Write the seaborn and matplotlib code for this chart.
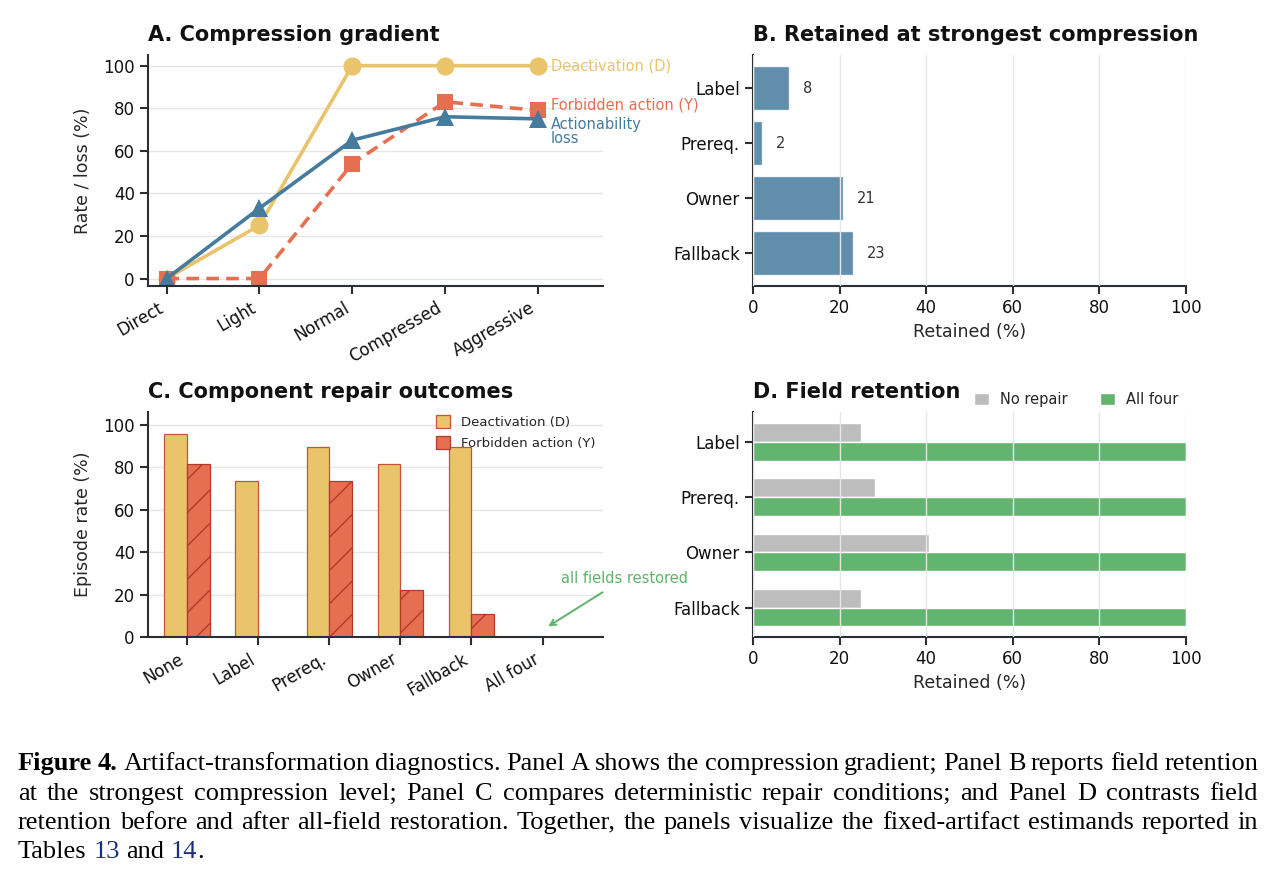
import numpy as np
import pandas as pd
import matplotlib
matplotlib.use("Agg")
import matplotlib.pyplot as plt
import matplotlib.patches as mpatches
import seaborn as sns

# ---- data ----
levels = ["Direct", "Light", "Normal", "Compressed", "Aggressive"]
deact_rate = [0, 25, 100, 100, 100]
forbid_rate = [0, 0, 54, 83, 79]
action_loss = [0, 33, 65, 76, 75]

fields = ["Label", "Prereq.", "Owner", "Fallback"]
retained_strongest = [8.3, 2.1, 20.9, 23.0]

repairs = ["None", "Label", "Prereq.", "Owner", "Fallback", "All four"]
repair_deact = [95.5, 73.5, 89.3, 81.3, 89.3, 0]
repair_forbid = [81.3, 0, 73.5, 22.0, 10.7, 0]

no_repair = [25.0, 28.2, 40.6, 25.0]
all_four = [100, 100, 100, 100]

YELLOW = "#E9C46A"
RED = "#E76F51"
BLUE = "#457B9D"
GREEN = "#63B46F"
GRAY = "#BDBDBD"
SPINE = "#2B2F33"

sns.set_theme(style="ticks")
plt.rcParams["font.family"] = ["DejaVu Sans"]
plt.rcParams.update({
    "axes.edgecolor": SPINE,
    "axes.linewidth": 1.5,
    "xtick.major.width": 1.5,
    "ytick.major.width": 1.5,
    "xtick.major.size": 6,
    "ytick.major.size": 6,
    "xtick.labelsize": 12,
    "ytick.labelsize": 12,
    "axes.labelsize": 12.5,
    "grid.color": "#E6E6E6",
    "grid.linewidth": 1.0,
})

W, H = 1274, 893
fig = plt.figure(figsize=(W / 100, H / 100), dpi=100)


def box(l, t, r, b):
    return [l / W, 1 - b / H, (r - l) / W, (b - t) / H]


axA = fig.add_axes(box(148, 55, 603, 286))
axB = fig.add_axes(box(753, 55, 1186, 286))
axC = fig.add_axes(box(148, 412, 603, 637))
axD = fig.add_axes(box(753, 412, 1186, 637))

title_kw = dict(loc="left", fontsize=15, fontweight="bold", pad=10, color="#111111")

# ---- A. Compression gradient ----
xs = np.arange(len(levels))
sns.lineplot(x=xs, y=deact_rate, ax=axA, color=YELLOW, lw=2.6, marker="o",
             markersize=13, markeredgewidth=0)
sns.lineplot(x=xs, y=forbid_rate, ax=axA, color=RED, lw=2.6, marker="s",
             markersize=12, markeredgewidth=0, linestyle=(0, (3.5, 2)))
sns.lineplot(x=xs, y=action_loss, ax=axA, color=BLUE, lw=2.6, marker="^",
             markersize=13, markeredgewidth=0)
axA.set_xticks(xs)
axA.set_xticklabels(levels, rotation=30, ha="right")
axA.set_xlim(-0.2, 4.7)
axA.set_ylim(-3.5, 105)
axA.set_yticks([0, 20, 40, 60, 80, 100])
axA.yaxis.grid(True)
axA.set_axisbelow(True)
axA.set_ylabel("Rate / loss (%)", labelpad=8)
axA.set_title("A. Compression gradient", **title_kw)
axA.text(4.14, deact_rate[-1], "Deactivation (D)", color=YELLOW, fontsize=10.5,
         va="center", ha="left")
axA.text(4.14, forbid_rate[-1] + 2.5, "Forbidden action (Y)", color=RED,
         fontsize=10.5, va="center", ha="left")
axA.text(4.14, action_loss[-1] + 1, "Actionability\nloss", color=BLUE,
         fontsize=10.5, va="top", ha="left", linespacing=0.9)

# ---- B. Retained at strongest compression ----
sns.barplot(x=retained_strongest, y=fields, orient="h", ax=axB, color=BLUE,
            alpha=0.85, width=0.8, saturation=1)
for i, v in enumerate(retained_strongest):
    axB.text(v + 3.2, i, f"{v:.0f}", va="center", ha="left", fontsize=10.5,
             color="#333333")
axB.set_xlim(0, 100)
axB.set_ylim(3.6, -0.6)
axB.set_xticks([0, 20, 40, 60, 80, 100])
axB.xaxis.grid(True)
axB.set_axisbelow(False)
axB.set_xlabel("Retained (%)")
axB.set_ylabel("")
axB.set_title("B. Retained at strongest compression", **title_kw)

# ---- C. Component repair outcomes ----
dfC = pd.DataFrame({
    "repair": repairs * 2,
    "rate": repair_deact + repair_forbid,
    "outcome": ["Deactivation (D)"] * len(repairs) + ["Forbidden action (Y)"] * len(repairs),
})
sns.barplot(data=dfC, x="repair", y="rate", hue="outcome",
            palette=[YELLOW, RED], width=0.64, ax=axC, legend=False,
            saturation=1)
for p in axC.containers[0]:
    p.set_edgecolor("#C8503C")
    p.set_linewidth(0.9)
for p in axC.containers[1]:
    p.set_edgecolor("#B23A2A")
    p.set_linewidth(0.9)
    p.set_hatch("/")
axC.set_xlim(-0.55, 5.85)
axC.set_ylim(0, 106)
axC.set_yticks([0, 20, 40, 60, 80, 100])
axC.set_xticks(range(len(repairs)))
axC.set_xticklabels(repairs, rotation=30, ha="right")
axC.yaxis.grid(True)
axC.set_axisbelow(True)
axC.set_xlabel("")
axC.set_ylabel("Episode rate (%)", labelpad=8)
axC.set_title("C. Component repair outcomes", **title_kw)
handlesC = [
    mpatches.Patch(facecolor=YELLOW, edgecolor="#C8503C", lw=0.9, label="Deactivation (D)"),
    mpatches.Patch(facecolor=RED, edgecolor="#B23A2A", lw=0.9, hatch="/", label="Forbidden action (Y)"),
]
axC.legend(handles=handlesC, loc="upper right", frameon=False, fontsize=9.5,
           handlelength=1.1, handleheight=1.1, borderaxespad=0.2,
           bbox_to_anchor=(1.0, 1.02))
axC.annotate("all fields restored", xy=(5.08, 5), xytext=(6.15, 24),
             color="#5DB36A", fontsize=10.5, ha="center", va="bottom",
             annotation_clip=False,
             arrowprops=dict(arrowstyle="->", color="#5DB36A", lw=1.4,
                             shrinkA=4, shrinkB=0))

# ---- D. Field retention ----
dfD = pd.DataFrame({
    "field": fields * 2,
    "retained": no_repair + all_four,
    "condition": ["No repair"] * len(fields) + ["All four"] * len(fields),
})
sns.barplot(data=dfD, x="retained", y="field", hue="condition", orient="h",
            palette=[GRAY, GREEN], width=0.68, ax=axD, saturation=1)
axD.set_xlim(0, 100)
axD.set_ylim(3.53, -0.54)
axD.set_xticks([0, 20, 40, 60, 80, 100])
axD.xaxis.grid(True)
axD.set_axisbelow(False)
axD.set_xlabel("Retained (%)")
axD.set_ylabel("")
axD.set_title("D. Field retention", **title_kw)
axD.legend(loc="lower right", bbox_to_anchor=(1.0, 0.99), ncol=2,
           frameon=False, fontsize=10.5, handlelength=1.0, handleheight=0.9,
           columnspacing=2.2, borderaxespad=0.1, title=None)

for ax in (axA, axB, axC, axD):
    sns.despine(ax=ax)
    ax.tick_params(colors=SPINE, labelcolor="#111111")

# ---- caption (justified, Times-like) ----
SERIF = ["Liberation Serif", "DejaVu Serif"]
NAVY = "#1A2F80"
CAP_SIZE = 19
cap_lines = [
    [[("Figure", "b")], [("4.", "b")], [("Artifact-transformation", "")], [("diagnostics.", "")],
     [("Panel", "")], [("A", "")], [("shows", "")], [("the", "")], [("compression", "")],
     [("gradient;", "")], [("Panel", "")], [("B", "")], [("reports", "")], [("field", "")],
     [("retention", "")]],
    [[(w, "")] for w in "at the strongest compression level; Panel C compares deterministic repair conditions; and Panel D contrasts field".split()],
    [[(w, "")] for w in "retention before and after all-field restoration. Together, the panels visualize the fixed-artifact estimands reported in".split()],
    [[("Tables", "")], [("13", "n")], [("and", "")], [("14", "n"), (".", "")]],
]
cap_left, cap_right = 18, 1258
baselines = [770, 800, 829, 858]
fig.canvas.draw()
renderer = fig.canvas.get_renderer()


def put(x, y, s, style):
    kw = dict(fontsize=CAP_SIZE, family=SERIF, color="black", va="baseline", ha="left")
    if style == "b":
        kw["fontweight"] = "bold"
    if style == "n":
        kw["color"] = NAVY
    t = fig.text(x / W, 1 - y / H, s, **kw)
    return t, t.get_window_extent(renderer).width


def measure(s, style):
    t, w = put(-500, -500, s, style)
    t.remove()
    return w


space_w = measure("a a", "") - 2 * measure("a", "")
for li, words in enumerate(cap_lines):
    widths = [sum(measure(s, st) for s, st in word) for word in words]
    if li < len(cap_lines) - 1:
        gap = (cap_right - cap_left - sum(widths)) / (len(words) - 1)
    else:
        gap = space_w
    x = cap_left
    for word, w in zip(words, widths):
        for s, st in word:
            t, tw = put(x, baselines[li], s, st)
            x += tw
        x += gap

fig.savefig("out.png", dpi=100)
